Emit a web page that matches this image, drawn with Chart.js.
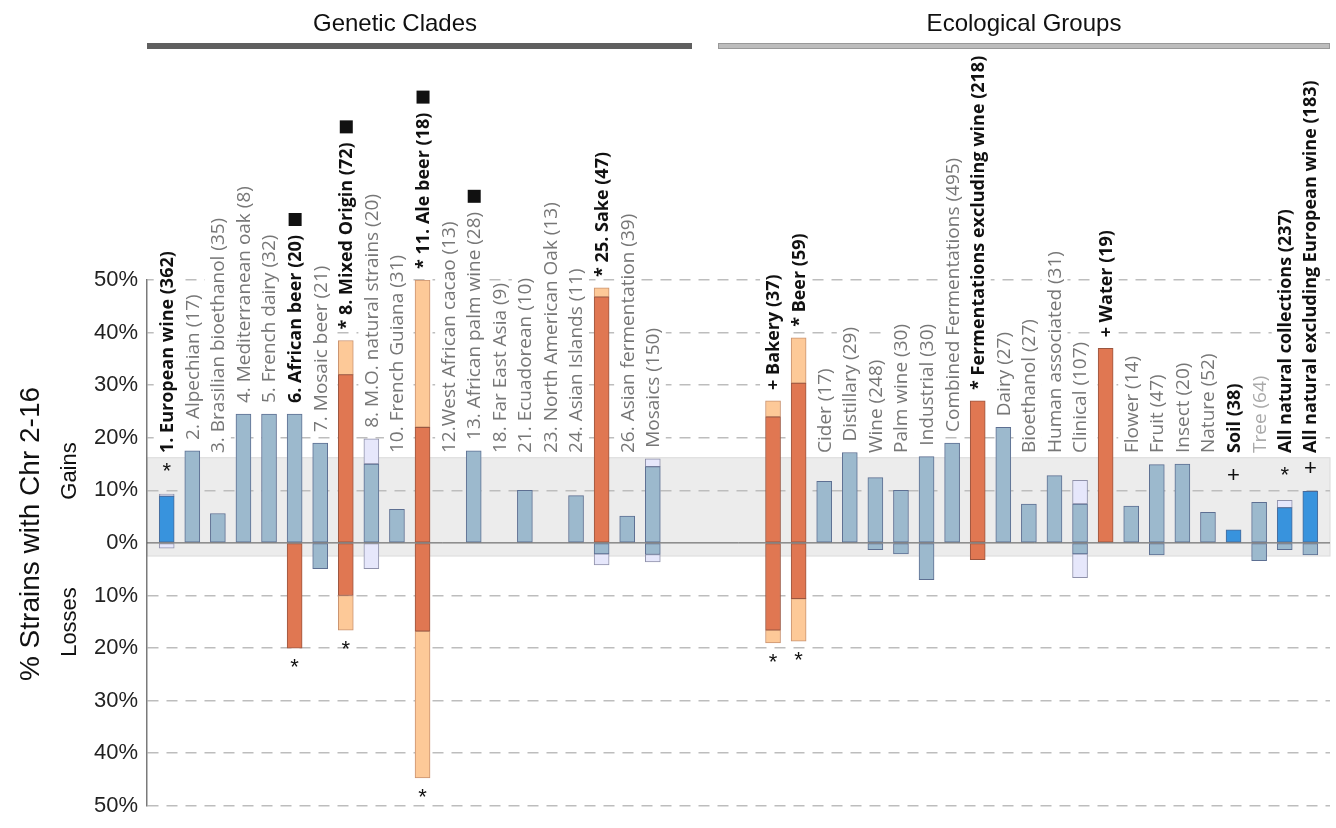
<!DOCTYPE html>
<html>
<head>
<meta charset="utf-8">
<script src="https://cdn.jsdelivr.net/npm/chart.js@4.4.1/dist/chart.umd.min.js"></script>
<style>
  html, body { margin: 0; padding: 0; background: #fff; }
  canvas { display: block; }
</style>
</head>
<body>
<canvas id="chart" width="1336" height="828"></canvas>
<script>
// categories: first 20 are genetic clades, the rest ecological groups
const categories = [
    '1. European wine (362)', '2. Alpechian (17)', '3. Brasilian bioethanol (35)', '4. Mediterranean oak (8)',
    '5. French dairy (32)', '6. African beer (20)', '7. Mosaic beer (21)', '* 8. Mixed Origin (72)',
    '8. M.O. natural strains (20)', '10. French Guiana (31)', '* 11. Ale beer (18)', '12.West African cacao (13)',
    '13. African palm wine (28)', '18. Far East Asia (9)', '21. Ecuadorean (10)', '23. North American Oak (13)',
    '24. Asian Islands (11)', '* 25. Sake (47)', '26. Asian fermentation (39)', 'Mosaics (150)',
    '+ Bakery (37)', '* Beer (59)', 'Cider (17)', 'Distillary (29)', 'Wine (248)', 'Palm wine (30)',
    'Industrial (30)', 'Combined Fermentations (495)', '* Fermentations excluding wine (218)', 'Dairy (27)',
    'Bioethanol (27)', 'Human associated (31)', 'Clinical (107)', '+ Water (19)', 'Flower (14)', 'Fruit (47)',
    'Insect (20)', 'Nature (52)', 'Soil (38)', 'Tree (64)', 'All natural collections (237)',
    'All natural excluding European wine (183)'
];
const cladeCount = 20;

// label weight: b = bold, n = normal, f = faint
const labelWeight = [
    'b','n','n','n','n','b','n','b','n','n','b','n','n','n','n','n','n','b','n','n',
    'b','b','n','n','n','n','n','n','b','n','n','n','n','b','n','n','n','n','b','f','b','b'
];

// % strains with gains (main part + lighter part on top)
const gainMain = [
    8.9, 17.5, 5.6, 24.5, 24.5, 24.5, 19, 32, 15, 6.4, 22, 0, 17.5, 0, 10, 0, 9, 46.8, 5.1, 14.5,
    24, 30.4, 11.7, 17.2, 12.4, 10, 16.4, 19, 27, 22, 7.4, 12.8, 7.4, 37, 7, 14.9, 15, 5.8, 2.5, 7.7, 6.7, 9.8
];
const gainExtra = [
    0.4, 0, 0, 0, 0, 0, 0, 6.5, 4.8, 0, 28, 0, 0, 0, 0, 0, 0, 1.7, 0, 1.5,
    3, 8.6, 0, 0, 0, 0, 0, 0, 0, 0, 0, 0, 4.5, 0, 0, 0, 0, 0, 0, 0, 1.4, 0
];
// % strains with losses (main part + lighter part below)
const lossMain = [
    0, 0, 0, 0, 0, 20, 4.9, 10, 0, 0, 16.8, 0, 0, 0, 0, 0, 0, 2.1, 0, 2.2,
    16.6, 10.6, 0, 0, 1.3, 2.1, 7, 0, 3.2, 0, 0, 0, 2.1, 0, 0, 2.3, 0, 0, 0, 3.4, 1.3, 2.3
];
const lossExtra = [
    1, 0, 0, 0, 0, 0, 0, 6.6, 4.9, 0, 27.9, 0, 0, 0, 0, 0, 0, 2.1, 0, 1.4,
    2.4, 8.1, 0, 0, 0, 0, 0, 0, 0, 0, 0, 0, 4.5, 0, 0, 0, 0, 0, 0, 0, 0, 0
];
// colour kind: n = normal (steel blue), b = bright blue, r = red
const gainKind = [
    'b','n','n','n','n','n','n','r','n','n','r','n','n','n','n','n','n','r','n','n',
    'r','r','n','n','n','n','n','n','r','n','n','n','n','r','n','n','n','n','b','n','b','b'
];
const lossKind = [
    'n','n','n','n','n','r','n','r','n','n','r','n','n','n','n','n','n','n','n','n',
    'r','r','n','n','n','n','n','n','r','n','n','n','n','n','n','n','n','n','n','n','n','n'
];
const markAbove = [
    '*','','','','','','','','','','','','','','','','','','','',
    '','','','','','','','','','','','','','','','','','','+','','*','+'
];
const markBelow = [
    '','','','','','*','','*','','','*','','','','','','','','','',
    '*','*','','','','','','','','','','','','','','','','','','','',''
];
const squareMark = [5, 7, 10, 12];

const yTicks = [-50, -40, -30, -20, -10, 0, 10, 20, 30, 40, 50];

const fill = { n: '#9cb9cd', b: '#3893dd', r: '#e07752', ro: '#fdc998', no: '#e6e7fb' };
const edge = { n: '#5d6f92', b: '#4a6a98', r: '#9a5640', ro: '#c99270', no: '#8f91aa' };

const GROUP_GAP = 3.7;
const xPos = categories.map((c, i) => i < cladeCount ? i : i + GROUP_GAP);

function segs(getRange, kindOf) {
    const out = [];
    categories.forEach((c, i) => {
        const r = getRange(i);
        if (r[0] !== r[1]) out.push({ x: xPos[i], y: r, k: kindOf(i) });
    });
    return out;
}

function barSet(data) {
    return {
        data: data,
        backgroundColor: ctx => fill[ctx.raw.k],
        borderColor: ctx => edge[ctx.raw.k],
        borderWidth: 1,
        borderSkipped: false,
        barThickness: 15,
        grouped: false
    };
}

const datasets = [
    barSet(segs(i => [0, gainMain[i]], i => gainKind[i])),
    barSet(segs(i => [gainMain[i], gainMain[i] + gainExtra[i]], i => gainKind[i] === 'r' ? 'ro' : 'no')),
    barSet(segs(i => [-lossMain[i], 0], i => lossKind[i])),
    barSet(segs(i => [-lossMain[i] - lossExtra[i], -lossMain[i]], i => lossKind[i] === 'r' ? 'ro' : 'no'))
];

const decorations = {
    id: 'decorations',
    beforeDraw(chart) {
        const { ctx, chartArea } = chart;
        const y = chart.scales.y;
        const top = y.getPixelForValue(16.2), bot = y.getPixelForValue(-2.5);
        ctx.save();
        ctx.fillStyle = '#ececec';
        ctx.fillRect(chartArea.left, top, chartArea.right - chartArea.left, bot - top);
        ctx.strokeStyle = '#dadada';
        ctx.lineWidth = 1;
        ctx.strokeRect(chartArea.left, top, chartArea.right - chartArea.left, bot - top);
        ctx.restore();
    },
    afterDatasetsDraw(chart) {
        const { ctx, chartArea } = chart;
        const xs = chart.scales.x, ys = chart.scales.y;
        const y0 = ys.getPixelForValue(0);
        ctx.save();

        // zero line on top of the bars
        ctx.strokeStyle = '#555';
        ctx.lineWidth = 1;
        ctx.beginPath();
        ctx.moveTo(chartArea.left, y0);
        ctx.lineTo(chartArea.right, y0);
        ctx.stroke();

        // rotated category labels
        const labelTop = [];
        categories.forEach((name, i) => {
            const x = xs.getPixelForValue(xPos[i]);
            const top = ys.getPixelForValue(gainMain[i] + gainExtra[i]);
            const bottom = Math.min(top - 11, 453);
            const w = labelWeight[i];
            ctx.font = w === 'b' ? 'bold 18px "Open Sans"' : '19px "Open Sans"';
            const tw = ctx.measureText(name).width;
            ctx.save();
            ctx.translate(x, bottom);
            ctx.rotate(-Math.PI / 2);
            ctx.fillStyle = '#fff';
            ctx.fillRect(-2, -13, tw + 4, 26);
            ctx.fillStyle = w === 'b' ? '#111' : (w === 'f' ? '#aaa' : '#777');
            ctx.textAlign = 'left';
            ctx.textBaseline = 'middle';
            ctx.fillText(name, 0, 1);
            ctx.restore();
            labelTop[i] = bottom - tw;
        });

        // significance marks
        ctx.fillStyle = '#111';
        ctx.font = '22px "Liberation Sans"';
        ctx.textAlign = 'center';
        ctx.textBaseline = 'middle';
        categories.forEach((name, i) => {
            const x = xs.getPixelForValue(xPos[i]);
            if (markAbove[i]) {
                const top = ys.getPixelForValue(gainMain[i] + gainExtra[i]);
                ctx.fillText(markAbove[i], x, Math.min(top - 22, 476));
            }
            if (markBelow[i]) {
                const bot = ys.getPixelForValue(-lossMain[i] - lossExtra[i]);
                ctx.fillText(markBelow[i], x, bot + 20);
            }
        });
        squareMark.forEach(i => {
            const x = xs.getPixelForValue(xPos[i]);
            ctx.fillRect(x - 6, labelTop[i] - 22, 13, 13);
        });

        // group headers
        ctx.font = '24px "Liberation Sans"';
        ctx.fillStyle = '#111';
        ctx.fillText('Genetic Clades', 395, 24);
        ctx.fillText('Ecological Groups', 1024, 24);
        ctx.fillStyle = '#5f5f5f';
        ctx.fillRect(147, 43, 545, 6);
        ctx.fillStyle = '#bdbdbd';
        ctx.fillRect(718, 43, 612, 6);
        ctx.strokeStyle = '#999';
        ctx.lineWidth = 1;
        ctx.strokeRect(718.5, 43.5, 611, 5);

        // axis titles
        ctx.fillStyle = '#111';
        ctx.save();
        ctx.translate(31, 534);
        ctx.rotate(-Math.PI / 2);
        ctx.font = '28px "Liberation Sans"';
        ctx.fillText('% Strains with Chr 2-16', 0, 0);
        ctx.restore();
        ctx.save();
        ctx.translate(70, 471);
        ctx.rotate(-Math.PI / 2);
        ctx.font = '22px "Liberation Sans"';
        ctx.fillText('Gains', 0, 0);
        ctx.restore();
        ctx.save();
        ctx.translate(70, 622);
        ctx.rotate(-Math.PI / 2);
        ctx.font = '22px "Liberation Sans"';
        ctx.fillText('Losses', 0, 0);
        ctx.restore();

        ctx.restore();
    }
};

new Chart(document.getElementById('chart').getContext('2d'), {
    type: 'bar',
    data: { datasets: datasets },
    options: {
        responsive: false,
        animation: false,
        devicePixelRatio: 1,
        layout: { padding: { top: 280, bottom: 16, left: 0, right: 6 } },
        plugins: { legend: { display: false }, tooltip: { enabled: false } },
        scales: {
            x: {
                type: 'linear',
                offset: false,
                min: -0.77,
                max: xPos[xPos.length - 1] + 0.77,
                display: false
            },
            y: {
                min: -50,
                max: 50,
                afterFit: scale => { scale.width = 147; },
                afterBuildTicks: scale => { scale.ticks = yTicks.map(v => ({ value: v })); },
                ticks: {
                    callback: v => Math.abs(v) + '%',
                    font: { family: 'Liberation Sans', size: 22 },
                    color: '#222',
                    padding: 9
                },
                grid: {
                    color: ctx => ctx.tick && ctx.tick.value === 0 ? 'rgba(0,0,0,0)' : '#bdbdbd',
                    lineWidth: 1.5,
                    drawTicks: false
                },
                border: { display: true, color: '#7a7a7a', width: 1.5, dash: [11, 8] }
            }
        }
    },
    plugins: [decorations]
});
</script>
</body>
</html>
